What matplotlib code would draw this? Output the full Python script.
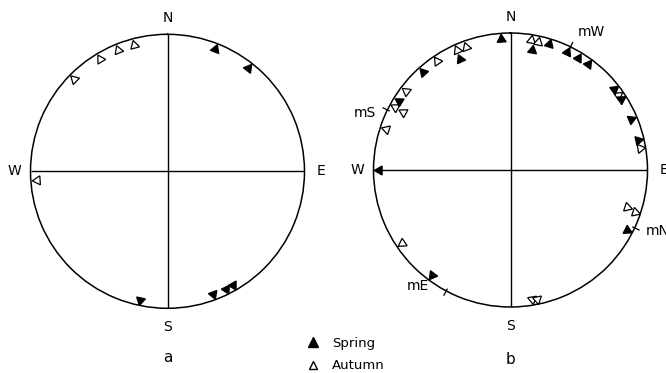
import numpy as np
import matplotlib
matplotlib.use('Agg')
import matplotlib.pyplot as plt
from matplotlib.lines import Line2D

# ---- data: bearings in degrees (clockwise from North) ----
a_spring = [21, 38, 150, 153.5, 159.5, 192]
a_autumn = [266, 314.5, 329, 338, 345]

b_spring = [356, 335.5, 318, 301.5, 270, 217, 10, 17, 25.5, 31, 36,
            52, 57.5, 67, 77, 117]
b_autumn = [340, 336, 326, 307, 298.5, 298.5, 288, 236, 9, 12, 55, 80.5,
            108.5, 107.5, 170.5, 168.5]

mean_labels = ['mW', 'mS', 'mN', 'mE']
mean_dirs = [26, 296, 115, 208]

compass_labels = ['N', 'E', 'S', 'W']
compass_dirs = [0, 90, 180, 270]
panel_labels = ['a', 'b']
legend_labels = ['Spring', 'Autumn']

W, H = 666, 373
fig = plt.figure(figsize=(W / 100, H / 100), dpi=100)

R = 137.0
centers = [(167.5, 171.3), (510.5, 170.0)]


def make_ax(cx, cy):
    ax = fig.add_axes([(cx - R) / W, (H - cy - R) / H, 2 * R / W, 2 * R / H],
                      projection='polar')
    ax.set_theta_zero_location('N')
    ax.set_theta_direction(-1)
    ax.set_ylim(0, 1)
    ax.grid(False)
    ax.set_xticks([])
    ax.set_yticks([])
    ax.spines['polar'].set_linewidth(1.1)
    ax.patch.set_alpha(0)
    ax.vlines(np.deg2rad(compass_dirs), 0, 1, color='black', lw=1.0)
    lab_r = {'N': 1.12, 'E': 1.12, 'S': 1.14, 'W': 1.12}
    for lab, d in zip(compass_labels, compass_dirs):
        ax.text(np.deg2rad(d), lab_r[lab], lab, ha='center', va='center',
                fontsize=10, clip_on=False)
    return ax


def draw_markers(ax, spring, autumn):
    placed = []
    r0, step = 0.958, 0.065
    items = [(d, 'white') for d in autumn] + [(d, 'black') for d in spring]
    for d, fc in items:
        near = any(abs(((d - p + 180) % 360) - 180) < 1.5 for p in placed)
        r = r0 - step if near else r0
        placed.append(d)
        ax.plot([np.deg2rad(d)], [r], linestyle='none',
                marker=(3, 0, -d), markersize=7.5, markerfacecolor=fc,
                markeredgecolor='black', markeredgewidth=0.9, clip_on=False)


ax_a = make_ax(*centers[0])
draw_markers(ax_a, a_spring, a_autumn)
ax_a.text(0.5, -0.178, panel_labels[0], transform=ax_a.transAxes,
          ha='center', va='center', fontsize=11)

ax_b = make_ax(*centers[1])
draw_markers(ax_b, b_spring, b_autumn)
ax_b.text(0.5, -0.19, panel_labels[1], transform=ax_b.transAxes,
          ha='center', va='center', fontsize=11)

# label placement (angle, radius) for the mean-direction labels
mean_label_pos = {'mW': (30.5, 1.17), 'mS': (291.5, 1.145),
                  'mN': (112.5, 1.16), 'mE': (218.5, 1.085)}
for lab, d in zip(mean_labels, mean_dirs):
    t = np.deg2rad(d)
    ax_b.plot([t, t], [0.985, 1.035], color='black', lw=0.9, clip_on=False)
    la, lr = mean_label_pos[lab]
    ax_b.text(np.deg2rad(la), lr, lab, ha='center', va='center',
              fontsize=10, clip_on=False)

handles = [Line2D([], [], linestyle='none', marker='^', markersize=7,
                  markerfacecolor='black', markeredgecolor='black'),
           Line2D([], [], linestyle='none', marker='^', markersize=6,
                  markerfacecolor='white', markeredgecolor='black')]
fig.legend(handles, legend_labels, loc='upper left',
           bbox_to_anchor=(300 / W, 1 - 330 / H), frameon=False,
           fontsize=9.5, handlelength=1.0, handletextpad=0.9,
           labelspacing=0.75, borderpad=0.0)

fig.savefig('out.png', dpi=100)
